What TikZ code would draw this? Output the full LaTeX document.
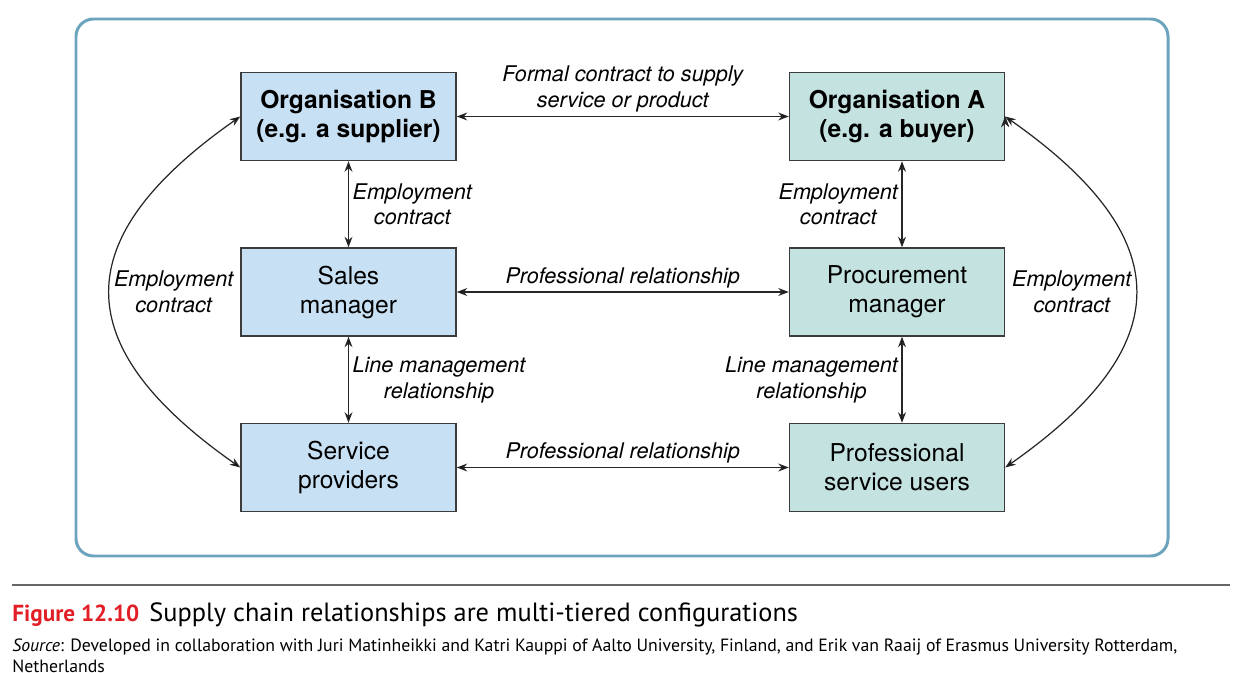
\documentclass[tikz,border=0pt]{standalone}
\usepackage{fontspec}
\setmainfont{TeX Gyre Heros}
\newfontfamily\capfont{PT Sans}
\usepackage{tikz}
\usepackage{xcolor}
\usetikzlibrary{arrows.meta, positioning}

\definecolor{framecol}{RGB}{108,164,190}
\definecolor{supfill}{RGB}{200,224,243}
\definecolor{buyfill}{RGB}{196,226,224}
\definecolor{boxline}{RGB}{60,60,60}
\definecolor{figred}{RGB}{226,30,38}

\tikzset{
    org/.style={draw=boxline, line width=0.8pt, minimum width=4.3cm, minimum height=1.76cm,
        align=center, font=\fontsize{14}{16.5}\selectfont},
    sup/.style={org, fill=supfill},
    buy/.style={org, fill=buyfill},
    rel/.style={align=center, inner sep=2pt, font=\fontsize{12.3}{14.7}\selectfont\itshape},
    link/.style={<->, >={Stealth[length=6pt,width=4.5pt]}, line width=0.7pt, draw=black!85}
}

\begin{document}
\begin{tikzpicture}
                        \useasboundingbox (0, 0) rectangle (25.08, -13.46);
                        \draw[framecol, line width=1.7pt, rounded corners=0.35cm] (1.52, -0.38) rectangle (23.36, -11.12);
                        \node[sup] (orgB) at (6.97, -2.33) {\textbf{Organisation B}\\\textbf{(e.g. a supplier)}};
                        \node[buy] (orgA) at (17.94, -2.33) {\textbf{Organisation A}\\\textbf{(e.g. a buyer)}};
                        \node[sup] (sales) at (6.97, -5.84) {Sales\\manager};
                        \node[buy] (proc) at (17.94, -5.84) {Procurement\\manager};
                        \node[sup] (serv) at (6.97, -9.35) {Service\\providers};
                        \node[buy] (users) at (17.94, -9.35) {Professional\\service users};
                        \draw[link]
                        (orgB) edge node[rel, above]{Formal contract to supply\\service or product} (orgA)
                        (sales) edge node[rel, above]{Professional relationship} (proc)
                        (serv) edge node[rel, above]{Professional relationship} (users)
                        (orgB) edge node[rel, right]{Employment\\contract} (sales)
                        (sales) edge node[rel, right]{Line management\\relationship} (serv)
                        ([xshift=1mm]orgA.south) edge node[rel, left]{Employment\\contract} ([xshift=1mm]proc.north)
                        ([xshift=1mm]proc.south) edge node[rel, left]{Line management\\relationship} ([xshift=1mm]users.north)
                        (orgB.west) edge[out=215, in=145, looseness=1.55] node[rel, right]{Employment\\contract} (serv.west)
                        (orgA.east) edge[out=-35, in=35, looseness=1.55] node[rel, left]{Employment\\contract} (users.east);
                        % caption below the frame
                        \draw[black!60, line width=0.7pt] (0.24, -11.70) -- (24.60, -11.70);
                        \node[anchor=base west, inner sep=0pt, font=\capfont\fontsize{15}{18}\selectfont] (cap) at (0.24, -12.42)
                            {{\color{figred}\bfseries\fontsize{13.2}{18}\selectfont Figure 12.10}\hspace{0.2cm}Supply chain relationships are multi-tiered configurations};
                        \node[anchor=base west, inner sep=0pt, font=\capfont\fontsize{10.1}{12}\selectfont] (src) at (0.24, -13.02)
                            {\textit{Source}: Developed in collaboration with Juri Matinheikki and Katri Kauppi of Aalto University, Finland, and Erik van Raaij of Erasmus University Rotterdam,};
                        \node[anchor=base west, inner sep=0pt, font=\capfont\fontsize{10.1}{12}\selectfont] (src2) at (0.24, -13.45) {Netherlands};
                    \end{tikzpicture}
\end{document}
